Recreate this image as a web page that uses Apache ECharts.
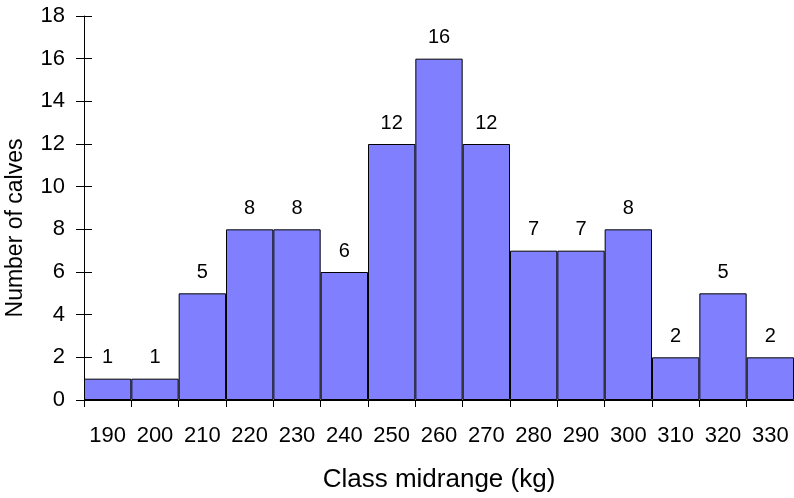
<!DOCTYPE html>
<html>
<head>
<meta charset="utf-8">
<script src="https://cdn.jsdelivr.net/npm/echarts@6/dist/echarts.min.js"></script>
<style>html,body{margin:0;padding:0;background:#fff}#c{width:794px;height:498px}</style>
</head>
<body>
<div id="c"></div>
<script>
const categories = ['190','200','210','220','230','240','250','260','270','280','290','300','310','320','330'];
const counts = [1,1,5,8,8,6,12,16,12,7,7,8,2,5,2];
const yMin = 0, yMax = 18, yStep = 2;
const xTitle = 'Class midrange (kg)';
const yTitle = 'Number of calves';

const font = 'Liberation Sans, Arial, sans-serif';
const chart = echarts.init(document.getElementById('c'), null, {renderer: 'canvas'});
chart.setOption({
  animation: false,
  grid: {left: 84, right: 0, top: 16, bottom: 98, containLabel: false, outerBoundsMode: 'none'},
  xAxis: {
    type: 'category', data: categories, boundaryGap: true,
    axisLine: {lineStyle: {color: '#000', width: 1}},
    axisTick: {show: true, length: 7, interval: 0, lineStyle: {color: '#000'}},
    axisLabel: {color: '#000', fontSize: 22, fontFamily: font, margin: 25, interval: 0},
    name: xTitle, nameLocation: 'middle', nameGap: 67,
    nameTextStyle: {color: '#000', fontSize: 26, fontFamily: font}
  },
  yAxis: [{
    type: 'value', min: yMin, max: yMax, interval: yStep,
    axisLine: {show: true, lineStyle: {color: '#000'}},
    axisTick: {show: true, length: 8, lineStyle: {color: '#000'}},
    splitLine: {show: false},
    axisLabel: {color: '#000', fontSize: 22, fontFamily: font, margin: 19},
    name: yTitle, nameLocation: 'middle', nameGap: 57,
    nameTextStyle: {color: '#000', fontSize: 23, fontFamily: font, padding: [0, 40, 0, 0]}
  }, {
    type: 'value', min: yMin, max: yMax, interval: yStep, position: 'left', offset: 0,
    axisLine: {show: false},
    axisTick: {show: true, inside: true, length: 8, lineStyle: {color: '#000'}},
    splitLine: {show: false},
    axisLabel: {show: false}
  }],
  series: [{
    type: 'bar', data: counts, barWidth: '100%', barCategoryGap: '0%',
    itemStyle: {color: '#8080FF', borderColor: '#000', borderWidth: 1},
    label: {show: true, position: 'top', distance: 11, color: '#000', fontSize: 20, fontFamily: font}
  }]
});
</script>
</body>
</html>
